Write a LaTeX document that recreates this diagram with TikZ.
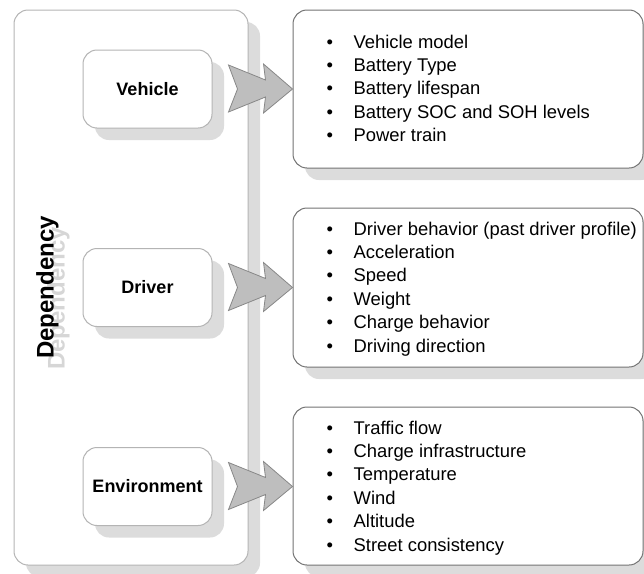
\documentclass[tikz,border=0pt]{standalone}
\usepackage{fontspec}
\setmainfont{Liberation Sans}
\usetikzlibrary{calc,shadows}

\definecolor{panelline}{HTML}{B4B4B4}
\definecolor{listline}{HTML}{737373}
\definecolor{shade}{HTML}{DCDCDC}
\definecolor{arrowfill}{HTML}{BEBEBE}
\definecolor{arrowline}{HTML}{888888}
\definecolor{ghost}{HTML}{D6D6D6}

\begin{document}
\begin{tikzpicture}[x=1pt,y=-1pt,
  softshadow/.style={drop shadow={shadow xshift=12pt,shadow yshift=-12pt,fill=shade,opacity=1}},
  panel/.style={draw=panelline,line width=1pt,fill=white,rounded corners=14pt,
    inner sep=0pt,softshadow},
  factor/.style={panel,minimum width=129pt,minimum height=78pt,
    font=\bfseries\fontsize{18}{22}\selectfont},
  listbox/.style={draw=listline,line width=1pt,fill=white,rounded corners=14pt,
    inner sep=0pt,softshadow,minimum width=350pt,minimum height=158pt},
  listtext/.style={anchor=base west,inner sep=0pt,align=left,
    font=\fontsize{18.4}{23.4}\selectfont},
  flow/.pic={\filldraw[fill=arrowfill,draw=arrowline,line width=0.8pt,line join=miter]
    (0,-24) -- (37,-9) -- (35,-25) -- (64,0) -- (35,24) -- (37,8) -- (0,23) -- (9,0) -- cycle;}
]
\clip (0,0) rectangle (644,573);

% outer frame holding the three factors
\node[panel,minimum width=234pt,minimum height=555pt] (dep) at (131,287.5) {};
\node[rotate=90,anchor=base,text=ghost,font=\bfseries\fontsize{24}{28}\selectfont]
  (depghost) at ($(dep.west)+(51,11)$) {Dependency};
\node[rotate=90,anchor=base,font=\bfseries\fontsize{24}{28}\selectfont]
  (deplabel) at ($(dep.west)+(40,0)$) {Dependency};

% factor boxes
\node[factor] (veh) at (147.5,89) {Vehicle};
\node[factor] (drv) at (147.5,287.5) {Driver};
\node[factor] (env) at (147.5,486.5) {Environment};

% detail boxes
\node[listbox] (vinfo) at (468,89) {};
\node[listbox,minimum height=159pt] (dinfo) at (468,287.5) {};
\node[listbox] (einfo) at (468,486) {};

% block arrows from factors to details
\pic at ($(veh.east)+(16,0)$) {flow};
\pic at ($(drv.east)+(16,0)$) {flow};
\pic at ($(env.east)+(16,0)$) {flow};

% bullet lists
\node[listtext] (vlist) at ($(vinfo.north west)+(34,38.5)$) {%
  \begin{tabular}[t]{@{}c@{\hspace{20.5pt}}l@{}}
  \textbullet & Vehicle model\\
  \textbullet & Battery Type\\
  \textbullet & Battery lifespan\\
  \textbullet & Battery SOC and SOH levels\\
  \textbullet & Power train
  \end{tabular}};
\node[listtext] (dlist) at ($(dinfo.north west)+(34,27.5)$) {%
  \begin{tabular}[t]{@{}c@{\hspace{20.5pt}}l@{}}
  \textbullet & Driver behavior (past driver profile)\\
  \textbullet & Acceleration\\
  \textbullet & Speed\\
  \textbullet & Weight\\
  \textbullet & Charge behavior\\
  \textbullet & Driving direction
  \end{tabular}};
\node[listtext] (elist) at ($(einfo.north west)+(34,27.5)$) {%
  \begin{tabular}[t]{@{}c@{\hspace{20.5pt}}l@{}}
  \textbullet & Traffic flow\\
  \textbullet & Charge infrastructure\\
  \textbullet & Temperature\\
  \textbullet & Wind\\
  \textbullet & Altitude\\
  \textbullet & Street consistency
  \end{tabular}};
\end{tikzpicture}
\end{document}
